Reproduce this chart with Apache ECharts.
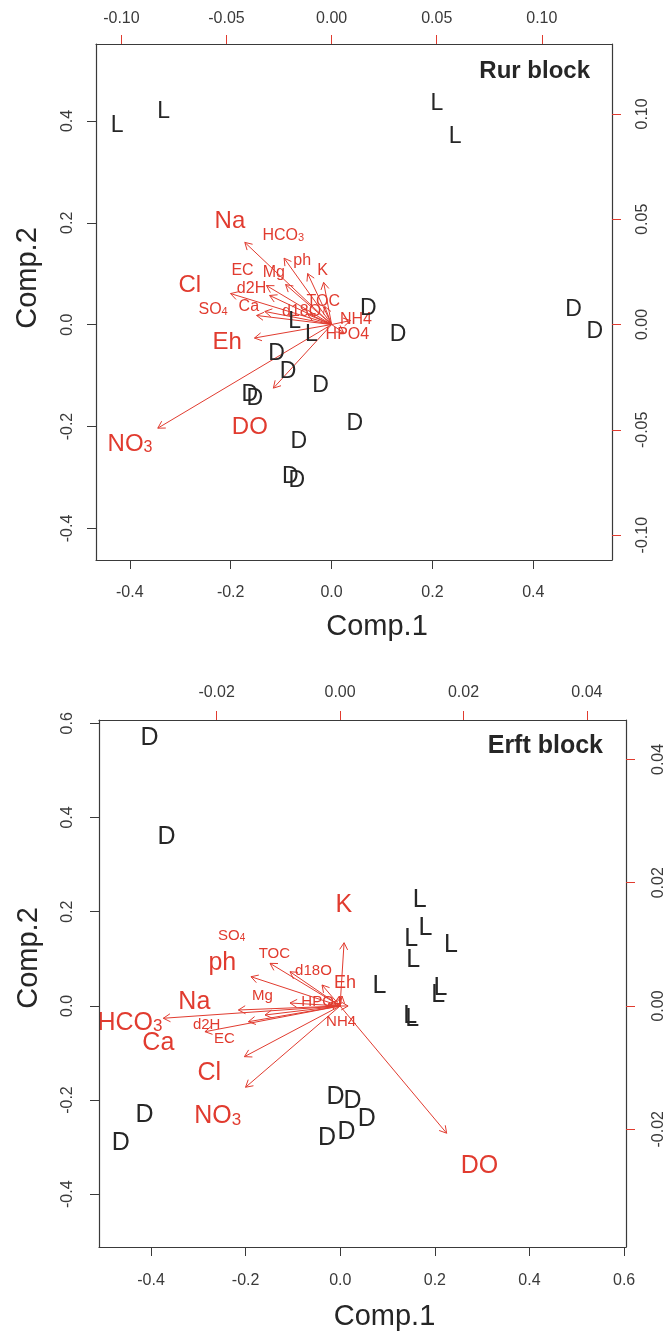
<!DOCTYPE html>
<html><head><meta charset="utf-8">
<script src="https://cdn.jsdelivr.net/npm/echarts@6/dist/echarts.min.js"></script>
<style>html,body{margin:0;padding:0;background:#fff}#c{width:670px;height:1335px}</style>
</head><body><div id="c"></div>
<script>
// ---------------- DATA: Rur block ----------------
const rurPointLabels = ['L','L','L','L','D','D','D','D','L','L','D','D','D','D','D','D','D','D','D'];
const rurPointX = [-0.425,-0.333,0.209,0.245,0.073,0.480,0.522,0.132,-0.073,-0.040,-0.109,-0.086,-0.022,-0.162,-0.152,0.046,-0.065,-0.082,-0.069];
const rurPointY = [0.390,0.418,0.434,0.369,0.031,0.029,-0.014,-0.020,0.006,-0.020,-0.056,-0.092,-0.120,-0.137,-0.146,-0.194,-0.230,-0.299,-0.307];

const rurVars   = ['Na','HCO3','ph','K','EC','Mg','Cl','d2H','SO4','Ca','TOC','d18O','NH4','HPO4','Eh','DO','NO3'];
const rurArrowX = [-0.0413,-0.0226,-0.0114,-0.0038,-0.0310,-0.0219,-0.0481,-0.0295,-0.0357,-0.0318,-0.0033,-0.0114,0.0090,0.0057,-0.0367,-0.0277,-0.0827];
const rurArrowY = [0.0390,0.0315,0.0242,0.0200,0.0185,0.0190,0.0147,0.0138,0.0043,0.0062,0.0086,0.0048,0.0019,-0.0038,-0.0064,-0.0302,-0.0492];
const rurLabelX = [-0.0484,-0.0230,-0.0140,-0.0043,-0.0424,-0.0275,-0.0675,-0.0381,-0.0564,-0.0394,-0.0040,-0.0143,0.0116,0.0075,-0.0497,-0.0389,-0.0959];
const rurLabelY = [0.0491,0.0421,0.0303,0.0255,0.0255,0.0247,0.0184,0.0173,0.0070,0.0083,0.0109,0.0062,0.0022,-0.0046,-0.0086,-0.0489,-0.0567];

const rurXTicks = [-0.4,-0.2,0.0,0.2,0.4];
const rurYTicks = [-0.4,-0.2,0.0,0.2,0.4];
const rurTopTicks = [-0.10,-0.05,0.00,0.05,0.10];
const rurRightTicks = [-0.10,-0.05,0.00,0.05,0.10];

// ---------------- DATA: Erft block ----------------
const erftPointLabels = ['D','D','L','L','L','L','L','L','L','L','L','L','D','D','D','D','D','D','D'];
const erftPointX = [-0.403,-0.367,0.168,0.180,0.150,0.234,0.154,0.083,0.212,0.207,0.148,0.152,-0.010,0.026,0.056,0.013,-0.028,-0.414,-0.464];
const erftPointY = [0.568,0.359,0.225,0.165,0.142,0.130,0.098,0.041,0.038,0.023,-0.021,-0.028,-0.193,-0.203,-0.241,-0.267,-0.281,-0.231,-0.292];

const erftVars   = ['K','SO4','TOC','ph','d18O','Eh','Mg','HPO4','NH4','Na','HCO3','d2H','EC','Ca','Cl','NO3','DO'];
const erftArrowX = [0.00065,-0.00292,-0.01135,-0.01443,-0.00811,0.00032,-0.00811,-0.00195,0.00130,-0.01647,-0.02864,-0.01485,-0.01216,-0.02189,-0.01550,-0.01531,0.01727];
const erftArrowY = [0.01026,0.00341,0.00692,0.00475,0.00556,0.00162,0.00049,0.00032,0.00000,-0.00065,-0.00199,-0.00255,-0.00146,-0.00417,-0.00822,-0.01318,-0.02064];
const erftLabelX = [0.00063,-0.01756,-0.01064,-0.01907,-0.00431,0.00081,-0.01258,-0.00297,0.00016,-0.02361,-0.03405,-0.02162,-0.01874,-0.02945,-0.02119,-0.01982,0.02260];
const erftLabelY = [0.01638,0.01135,0.00843,0.00692,0.00568,0.00368,0.00162,0.00070,-0.00255,0.00060,-0.00271,-0.00308,-0.00535,-0.00605,-0.01091,-0.01784,-0.02590];

const erftXTicks = [-0.4,-0.2,0.0,0.2,0.4,0.6];
const erftYTicks = [-0.4,-0.2,0.0,0.2,0.4,0.6];
const erftTopTicks = [-0.02,0.00,0.02,0.04];
const erftRightTicks = [-0.02,0.00,0.02,0.04];

// ---------------- STYLE ----------------
const FONT = '"Liberation Sans", Arial, Helvetica, sans-serif';
const RED = '#e13b2f';
const INK = '#262626';
const LINE = '#3a3a3a';
const SUBSCRIPTED = { HCO3: ['HCO','3'], SO4: ['SO','4'], NO3: ['NO','3'] };
const RUR_BIG = new Set(['Na','Cl','Eh','DO','NO3']);
const ERFT_BIG = new Set(['K','ph','Na','HCO3','Ca','Cl','NO3','DO']);
const ERFT_MID = new Set(['Eh']);

function fmt(d) { return v => (Math.abs(v) < 1e-9 ? 0 : v).toFixed(d); }

function makeAxis(o) {
  return {
    type: 'value', gridIndex: o.grid, position: o.pos, min: o.min, max: o.max, scale: true,
    axisLine: { show: true, onZero: false, lineStyle: { color: LINE, width: 1.2 } },
    axisTick: { show: true, inside: false, length: 9, customValues: o.ticks, lineStyle: { color: o.tickColor, width: 1 } },
    axisLabel: { show: true, customValues: o.ticks, formatter: fmt(o.digits), rotate: o.rotate || 0, margin: o.margin,
      fontSize: 16, fontFamily: FONT, color: '#3a3a3a', hideOverlap: false },
    splitLine: { show: false },
    name: o.name || '', nameLocation: 'middle', nameGap: o.nameGap || 0,
    nameTextStyle: { fontSize: 29, fontFamily: FONT, color: INK, padding: o.namePad || 0 },
    z: 5
  };
}

function pointSeries(xi, yi, xs, ys, labels, size) {
  return {
    type: 'custom', coordinateSystem: 'cartesian2d', xAxisIndex: xi, yAxisIndex: yi, clip: false, z: 4,
    data: xs.map((x, i) => [x, ys[i]]),
    renderItem: (params, api) => {
      const p = api.coord([api.value(0), api.value(1)]);
      return { type: 'text', x: p[0], y: p[1],
        style: { text: labels[params.dataIndex], fontSize: size, fontFamily: FONT, fill: INK, align: 'center', verticalAlign: 'middle' } };
    }
  };
}

function arrowSeries(xi, yi, xs, ys) {
  return {
    type: 'custom', coordinateSystem: 'cartesian2d', xAxisIndex: xi, yAxisIndex: yi, clip: false, z: 3,
    data: xs.map((x, i) => [x, ys[i]]),
    renderItem: (params, api) => {
      const o = api.coord([0, 0]);
      const t = api.coord([api.value(0), api.value(1)]);
      const ang = Math.atan2(t[1] - o[1], t[0] - o[0]);
      const L = 8, a = Math.PI / 6;
      const p1 = [t[0] - L * Math.cos(ang - a), t[1] - L * Math.sin(ang - a)];
      const p2 = [t[0] - L * Math.cos(ang + a), t[1] - L * Math.sin(ang + a)];
      return { type: 'group', children: [
        { type: 'line', shape: { x1: o[0], y1: o[1], x2: t[0], y2: t[1] }, style: { stroke: RED, lineWidth: 1 } },
        { type: 'polyline', shape: { points: [p1, t, p2] }, style: { stroke: RED, lineWidth: 1, fill: null } }
      ] };
    }
  };
}

function varStyle(name, size) {
  const sub = SUBSCRIPTED[name];
  if (!sub) return { text: name, fontSize: size, fontFamily: FONT, fill: RED, align: 'center', verticalAlign: 'middle' };
  return {
    text: '{m|' + sub[0] + '}{s|' + sub[1] + '}', fontSize: size, fontFamily: FONT, fill: RED, align: 'center', verticalAlign: 'middle',
    rich: {
      m: { fontSize: size, fontFamily: FONT, fill: RED, verticalAlign: 'bottom', lineHeight: size },
      s: { fontSize: Math.round(size * 0.68), fontFamily: FONT, fill: RED, verticalAlign: 'bottom', lineHeight: size }
    }
  };
}

function varLabelSeries(xi, yi, xs, ys, names, sizeOf) {
  return {
    type: 'custom', coordinateSystem: 'cartesian2d', xAxisIndex: xi, yAxisIndex: yi, clip: false, z: 4,
    data: xs.map((x, i) => [x, ys[i]]),
    renderItem: (params, api) => {
      const p = api.coord([api.value(0), api.value(1)]);
      const n = names[params.dataIndex];
      return { type: 'text', x: p[0], y: p[1], style: varStyle(n, sizeOf(n)) };
    }
  };
}

const chart = echarts.init(document.getElementById('c'), null, { renderer: 'canvas' });
chart.setOption({
  animation: false,
  backgroundColor: '#ffffff',
  title: [
    { text: 'Rur block', right: 80, top: 59, padding: 0, textStyle: { fontSize: 24, fontWeight: 'bold', fontFamily: FONT, color: INK } },
    { text: 'Erft block', right: 67, top: 734, padding: 0, textStyle: { fontSize: 25, fontWeight: 'bold', fontFamily: FONT, color: INK } }
  ],
  grid: [
    { left: 96, top: 44, width: 516, height: 516, containLabel: false },
    { left: 99, top: 720, width: 527, height: 527, containLabel: false }
  ],
  xAxis: [
    makeAxis({ grid: 0, pos: 'bottom', min: -0.467, max: 0.556, ticks: rurXTicks, digits: 1, tickColor: LINE, margin: 25, name: 'Comp.1', nameGap: 52, namePad: [0, 0, 0, 46] }),
    makeAxis({ grid: 0, pos: 'top', min: -0.1121, max: 0.1334, ticks: rurTopTicks, digits: 2, tickColor: RED, margin: 17 }),
    makeAxis({ grid: 1, pos: 'bottom', min: -0.510, max: 0.604, ticks: erftXTicks, digits: 1, tickColor: LINE, margin: 26, name: 'Comp.1', nameGap: 55, namePad: [0, 0, 0, 44] }),
    makeAxis({ grid: 1, pos: 'top', min: -0.03906, max: 0.04633, ticks: erftTopTicks, digits: 2, tickColor: RED, margin: 19 })
  ],
  yAxis: [
    makeAxis({ grid: 0, pos: 'left', min: -0.462, max: 0.551, ticks: rurYTicks, digits: 1, tickColor: LINE, margin: 20, rotate: 90, name: 'Comp.2', nameGap: 54, namePad: [0, 0, 0, 48] }),
    makeAxis({ grid: 0, pos: 'right', min: -0.1118, max: 0.1332, ticks: rurRightTicks, digits: 2, tickColor: RED, margin: 23, rotate: 90 }),
    makeAxis({ grid: 1, pos: 'left', min: -0.512, max: 0.607, ticks: erftYTicks, digits: 1, tickColor: LINE, margin: 23, rotate: 90, name: 'Comp.2', nameGap: 56, namePad: [0, 0, 0, 51] }),
    makeAxis({ grid: 1, pos: 'right', min: -0.0391, max: 0.0464, ticks: erftRightTicks, digits: 2, tickColor: RED, margin: 25, rotate: 90 })
  ],
  series: [
    arrowSeries(1, 1, rurArrowX, rurArrowY),
    varLabelSeries(1, 1, rurLabelX, rurLabelY, rurVars, n => RUR_BIG.has(n) ? 24 : 16),
    pointSeries(0, 0, rurPointX, rurPointY, rurPointLabels, 23),
    arrowSeries(3, 3, erftArrowX, erftArrowY),
    varLabelSeries(3, 3, erftLabelX, erftLabelY, erftVars, n => ERFT_BIG.has(n) ? 25 : (ERFT_MID.has(n) ? 18 : 15)),
    pointSeries(2, 2, erftPointX, erftPointY, erftPointLabels, 25)
  ]
});
</script></body></html>
